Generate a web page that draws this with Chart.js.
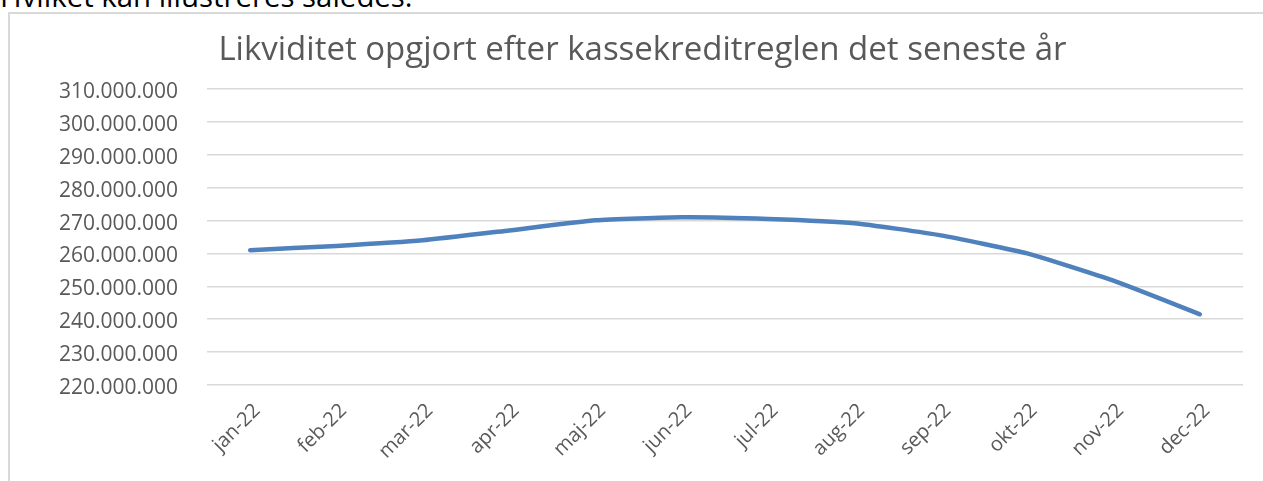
<!DOCTYPE html>
<html>
<head>
<meta charset="utf-8">
<script src="https://cdn.jsdelivr.net/npm/chart.js@4/dist/chart.umd.min.js"></script>
<style>
    html, body { margin: 0; padding: 0; background: #fff; overflow: hidden; }
    body { width: 1263px; height: 481px; position: relative; }
    #intro {
        position: absolute; left: 0; top: -18.5px;
        font: 29.4px/29px "Open Sans", sans-serif; color: #000; white-space: nowrap;
    }
    #frame {
        position: absolute; left: 8px; top: 12px; width: 1300px; height: 500px;
        border: 2px solid #d9d9d9; box-sizing: border-box;
    }
    #wrap { position: absolute; left: 0; top: 0; width: 1263px; height: 481px; }
</style>
</head>
<body>
<div id="intro">Hvilket kan illustreres således:</div>
<div id="frame"></div>
<div id="wrap"><canvas id="chart"></canvas></div>
<script>
// Data
const months = ['jan-22', 'feb-22', 'mar-22', 'apr-22', 'maj-22', 'jun-22',
                'jul-22', 'aug-22', 'sep-22', 'okt-22', 'nov-22', 'dec-22'];
const liquidity = [261000000, 262300000, 264000000, 267000000, 270100000, 271000000,
                   270500000, 269200000, 265500000, 260000000, 251700000, 241500000];
const yMin = 220000000;
const yMax = 310000000;
const yStep = 10000000;

const textColor = '#595959';
const fontFamily = '"Open Sans", sans-serif';

// danish thousands separator
function formatDots(v) {
    return String(Math.round(v)).replace(/\B(?=(\d{3})+(?!\d))/g, '.');
}

document.addEventListener('DOMContentLoaded', () => {
    const ctx = document.getElementById('chart').getContext('2d');
    new Chart(ctx, {
        type: 'line',
        data: {
            labels: months,
            datasets: [{
                data: liquidity,
                borderColor: '#4f81bd',
                borderWidth: 4.5,
                borderCapStyle: 'round',
                borderJoinStyle: 'round',
                pointRadius: 0,
                tension: 0.15,
                fill: false
            }]
        },
        options: {
            responsive: true,
            maintainAspectRatio: false,
            animation: false,
            // left padding pushes the title centre right, y axis width makes up for it
            layout: { padding: { left: 42, right: 20, top: 0, bottom: 0 } },
            plugins: {
                legend: { display: false },
                tooltip: { enabled: false },
                title: {
                    display: true,
                    text: 'Likviditet opgjort efter kassekreditreglen det seneste år',
                    color: textColor,
                    font: { family: fontFamily, size: 33, weight: 'normal', lineHeight: 1.2 },
                    padding: { top: 31, bottom: 18.4 }
                }
            },
            scales: {
                x: {
                    offset: true,
                    grid: { display: false, drawTicks: false },
                    border: { display: false },
                    ticks: {
                        color: textColor,
                        font: { family: fontFamily, size: 20 },
                        minRotation: 45,
                        maxRotation: 45,
                        padding: 14,
                        labelOffset: 7,
                        autoSkip: false
                    },
                    afterFit: (scale) => { scale.height = 96; }
                },
                y: {
                    min: yMin,
                    max: yMax,
                    grid: { color: '#d9d9d9', lineWidth: 1.5, drawTicks: false },
                    border: { display: false },
                    ticks: {
                        stepSize: yStep,
                        color: textColor,
                        font: { family: fontFamily, size: 21 },
                        padding: 29,
                        labelOffset: 3,
                        callback: (v) => formatDots(v)
                    },
                    afterFit: (scale) => { scale.width = 165; }
                }
            }
        }
    });
});
</script>
</body>
</html>
